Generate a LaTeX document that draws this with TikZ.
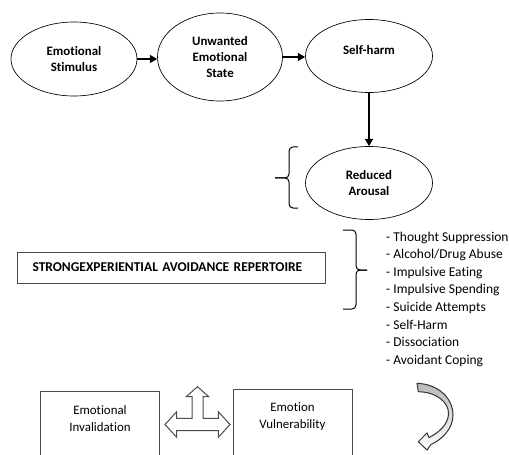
\documentclass[tikz,border=0pt]{standalone}
\usepackage{fontspec}
\setmainfont{Carlito}[Ligatures={NoCommon,NoContextual}]
\usetikzlibrary{shapes.geometric,arrows.meta}

\tikzset{
  state/.style={draw, ellipse, line width=0.02cm, inner sep=0pt, align=center,
    font=\fontsize{11}{14}\selectfont\bfseries},
  flow/.style={line width=0.045cm, -{Triangle[length=0.22cm,width=0.24cm]}},
  brace/.style={line width=0.03cm, rounded corners=0.12cm},
  panel/.style={draw=black!70, line width=0.03cm},
  plain/.style={inner sep=0pt, align=center, font=\fontsize{11}{14.5}\selectfont},
}

\begin{document}
\begin{tikzpicture}[x=0.03cm,y=-0.03cm]
\clip (0,0) rectangle (509,455);

% Drawing ellipse stimulus
\node [state, minimum width=3.78cm, minimum height=2.22cm] (stimulus) at (74,59) {Emotional\\Stimulus};

% Drawing ellipse unwanted state
\node [state, minimum width=3.75cm, minimum height=2.64cm] (unwanted) at (220,57) {Unwanted\\Emotional\\State};

% Drawing ellipse self-harm
\node [state, minimum width=3.81cm, minimum height=2.19cm] (selfharm) at (369,56) {};
\node [state, draw=none] (selflabel) at (369,50) {Self-harm};

% Drawing ellipse reduced arousal
\node [state, minimum width=3.81cm, minimum height=2.19cm] (arousal) at (369,183) {Reduced\\Arousal};

% Drawing arrows
\draw [flow] (stimulus.east) -- (stimulus.east -| unwanted.west);
\draw [flow] (unwanted.east) -- (unwanted.east -| selfharm.west);
\draw [flow] (selfharm) -- (arousal);

% Drawing brace left of arousal
\draw [brace] (298,147) -- (289,147) -- (289,178) -- (275,178);
\draw [brace] (275,178) -- (289,178) -- (289,208) -- (298,208);

% Drawing box repertoire
\node [panel, minimum height=0.93cm, text width=8.34cm, inner xsep=0.45cm, align=left,
  font=\fontsize{11.5}{14}\selectfont\bfseries, anchor=west] (strong) at (17,267.5)
  {STRONGEXPERIENTIAL AVOIDANCE REPERTOIRE};

% Drawing brace right of repertoire
\draw [brace] (343,230) -- (356,230) -- (356,270) -- (367,270);
\draw [brace] (367,270) -- (356,270) -- (356,309) -- (343,309);

% Marking list of behaviours
\node [anchor=north west, inner sep=0pt, align=left,
  font=\fontsize{11.5}{15.05}\selectfont] (behaviours) at (386,231.5)
  {- Thought Suppression\\- Alcohol/Drug Abuse\\- Impulsive Eating\\- Impulsive Spending\\
   - Suicide Attempts\\- Self-Harm\\- Dissociation\\- Avoidant Coping};

% Drawing bottom boxes
\node [panel, minimum width=3.54cm, minimum height=3cm, anchor=north] (invalbox) at (100,391) {};
\node [plain] (invalidation) at (100,419) {Emotional\\Invalidation};
\node [panel, minimum width=3.57cm, minimum height=3cm, anchor=north] (vulnbox) at (292.5,389) {};
\node [plain] (vulnerability) at (292.5,416.5) {Emotion\\Vulnerability};

% Drawing three-way arrow
\draw [draw=black!70, fill=white, line width=0.03cm]
  (197.5,386.7) -- (208.8,396.7) -- (203,396.7) -- (203,418.3) -- (218.3,418.3)
  -- (218.3,411.7) -- (230,424.5) -- (218.3,437.3) -- (218.3,430.7) -- (176.7,430.7)
  -- (176.7,437.3) -- (165,424.5) -- (176.7,411.7) -- (176.7,418.3) -- (192,418.3)
  -- (192,396.7) -- (186.2,396.7) -- cycle;

% Drawing curved arrow
\shade [draw=black!80, top color=gray!55, bottom color=white, line width=0.03cm]
  (417,383.3) .. controls (438,384) and (453,398) .. (453,415)
  .. controls (453,428) and (443,439) .. (431,444.5) -- (427,450) -- (418.3,441.7)
  -- (427,433) -- (429,437.5) .. controls (440,432) and (448,424) .. (448.5,414)
  .. controls (449,402) and (436,392) .. (418.3,391.7) -- cycle;
\end{tikzpicture}
\end{document}
